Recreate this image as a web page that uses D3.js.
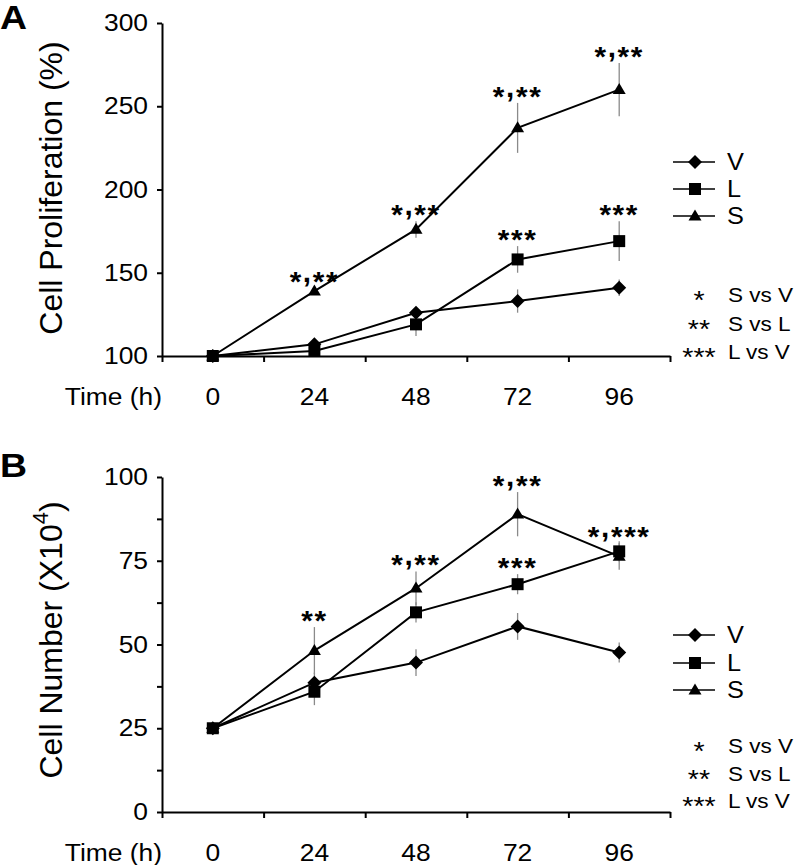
<!DOCTYPE html>
<html>
<head>
<meta charset="utf-8">
<script src="https://cdn.jsdelivr.net/npm/d3@7"></script>
<style>
  html, body { margin: 0; padding: 0; background: #fff; }
  svg { display: block; font-family: "Liberation Sans", Arial, sans-serif; }
</style>
</head>
<body>
<svg id="chart" width="796" height="865"></svg>
<script>
// ---------- DATA ----------
const times = ["0", "24", "48", "72", "96"];
const seriesNames = ["V", "L", "S"];

// Panel A: Cell Proliferation (%)
const aV = [100, 107, 126, 133, 141];
const aVErr = [0, 2, 2, 7, 5];
const aL = [100, 103, 119, 158, 169];
const aLErr = [0, 2, 7, 8, 12];
const aS = [100, 139, 176, 237, 260];
const aSErr = [0, 2, 5, 15, 16];
const aVSig = ["", "", "", "", ""];
const aLSig = ["", "", "", "***", "***"];
const aSSig = ["", "*,**", "*,**", "*,**", "*,**"];
const aTicks = [100, 150, 200, 250, 300];
const aTickLabels = ["100", "150", "200", "250", "300"];

// Panel B: Cell Number (X10^4)
const bV = [25, 38.6, 44.6, 55.4, 47.6];
const bVErr = [0, 3, 4, 4, 3];
const bL = [25, 35.9, 59.6, 68, 77.8];
const bLErr = [0, 4, 3, 3, 3];
const bS = [25, 48.2, 66.8, 88.9, 76.3];
const bSErr = [0, 7, 5, 6.6, 4];
const bVSig = ["", "", "", "", ""];
const bLSig = ["", "", "", "***", ""];
const bSSig = ["", "**", "*,**", "*,**", "*,***"];
const bTicks = [0, 12.5, 25, 37.5, 50, 62.5, 75, 87.5, 100];
const bTickLabels = ["0", "", "25", "", "50", "", "75", "", "100"];

const sigKeys = ["*", "**", "***"];
const sigLabels = ["S vs V", "S vs L", "L vs V"];

// ---------- DRAW ----------
const svg = d3.select("#chart");
const FONT = '"Liberation Sans", Arial, sans-serif';
const SX = 1.1; // horizontal stretch of the original figure text

function markerPath(type) {
  if (type === "V") { const r = 7; return `M0,${-r}L${r},0L0,${r}L${-r},0Z`; }
  if (type === "L") { const s = 6; return `M${-s},${-s}H${s}V${s}H${-s}Z`; }
  const w = 6.5, h = 11; return `M0,${-h*0.6}L${w},${h*0.4}L${-w},${h*0.4}Z`;
}

function stretchedText(g, x, y, str, size, anchor, weight) {
  return g.append("text")
    .attr("transform", `translate(${x},${y}) scale(${SX},1)`)
    .attr("text-anchor", anchor || "start")
    .attr("font-size", size).attr("font-family", FONT)
    .attr("font-weight", weight || "normal").text(str);
}

function starText(g, x, y, str) {
  const t = g.append("text")
    .attr("transform", `translate(${x},${y}) scale(${SX},1)`)
    .attr("text-anchor", "middle").attr("font-size", 27).attr("font-weight", "bold")
    .attr("font-family", FONT).attr("letter-spacing", 1.5);
  let raised = false;
  for (const ch of str) {
    const sp = t.append("tspan").text(ch);
    if (ch === ",") { sp.attr("dy", -9); raised = true; }
    else if (raised) { sp.attr("dy", 9); raised = false; }
  }
  return t;
}

function drawPanel(cfg) {
  const g = svg.append("g");
  const x = d3.scaleBand().domain(times).range([162, 670]).padding(0);
  const xEdge = d3.scaleLinear().domain([0, times.length]).range([162, 670]);
  const y = d3.scaleLinear().domain(cfg.domain).range([cfg.y0, cfg.y1]);

  // axes
  const yAxis = d3.axisLeft(y).tickValues(cfg.ticks).tickSize(5).tickSizeOuter(0)
    .tickPadding(7.7).tickFormat((d, i) => cfg.tickLabels[i]);
  const ya = g.append("g").attr("transform", "translate(162,0)").call(yAxis);
  const xAxis = d3.axisBottom(xEdge).ticks(times.length).tickSize(6).tickSizeOuter(0).tickFormat("");
  const xa = g.append("g").attr("transform", `translate(0,${cfg.y0})`).call(xAxis);
  [ya, xa].forEach(a => {
    a.select(".domain").attr("stroke", "#000").attr("stroke-width", 2);
    a.selectAll(".tick line").attr("stroke", "#000").attr("stroke-width", 2);
  });
  ya.selectAll(".tick text").attr("font-family", FONT).attr("font-size", 24)
    .attr("fill", "#000").attr("transform", `scale(${SX},1)`);

  // x labels
  times.forEach(t => stretchedText(g, x(t) + x.bandwidth() / 2, cfg.y0 + 49, t, 24, "middle"));
  stretchedText(g, 162, cfg.y0 + 49, "Time (h)", 24, "end");

  // y title
  const yt = g.append("text").attr("transform", `translate(62,${cfg.titleY}) rotate(-90)`)
    .attr("text-anchor", "middle").attr("font-size", 32).attr("font-family", FONT);
  yt.append("tspan").text(cfg.title);
  if (cfg.titleSup) {
    yt.append("tspan").attr("font-size", 22).attr("dy", -14).text(cfg.titleSup);
    yt.append("tspan").attr("dy", 14).text(")");
  }

  // panel letter
  stretchedText(g, 0, cfg.letterY, cfg.letter, 34, "start", "bold");

  const series = cfg.series;
  const cx = i => x(times[i]) + x.bandwidth() / 2;

  // error bars
  series.forEach(s => {
    s.vals.forEach((d, i) => {
      if (s.err[i] > 0) {
        g.append("line").attr("x1", cx(i)).attr("x2", cx(i))
          .attr("y1", y(d + s.err[i])).attr("y2", y(d - s.err[i]))
          .attr("stroke", "#8a8a8a").attr("stroke-width", 1.3);
      }
    });
  });

  // lines
  const line = d3.line().x((d, i) => cx(i)).y(d => y(d));
  series.forEach(s => {
    g.append("path").datum(s.vals).attr("d", line).attr("fill", "none")
      .attr("stroke", "#000").attr("stroke-width", 2);
  });
  // markers
  series.forEach(s => {
    g.selectAll(null).data(s.vals).enter().append("path")
      .attr("d", markerPath(s.name))
      .attr("transform", (d, i) => `translate(${cx(i)},${y(d)})`).attr("fill", "#000");
  });
  // significance
  series.forEach(s => {
    s.sig.forEach((t, i) => {
      if (!t) return;
      starText(g, cx(i), y(s.vals[i] + s.err[i]) + 3, t);
    });
  });

  // legend
  series.forEach((s, k) => {
    const ly = cfg.legendY[k];
    g.append("line").attr("x1", 673).attr("x2", 715).attr("y1", ly).attr("y2", ly)
      .attr("stroke", "#000").attr("stroke-width", 1.5);
    g.append("path").attr("d", markerPath(s.name)).attr("transform", `translate(695,${ly})`).attr("fill", "#000");
    stretchedText(g, 727, ly + 8, s.name, 23);
  });
  sigKeys.forEach((k, i) => {
    const ly = cfg.sigY[i];
    stretchedText(g, 699, ly + 15, k, 26, "middle");
    stretchedText(g, 728, ly + 8, sigLabels[i], 20.5);
  });
}

drawPanel({
  letter: "A", letterY: 29,
  domain: [100, 300], y0: 356, y1: 23,
  ticks: aTicks, tickLabels: aTickLabels,
  title: "Cell Proliferation (%)", titleY: 188,
  series: [
    { name: "V", vals: aV, err: aVErr, sig: aVSig },
    { name: "L", vals: aL, err: aLErr, sig: aLSig },
    { name: "S", vals: aS, err: aSErr, sig: aSSig }
  ],
  legendY: [162, 189, 216], sigY: [294, 323, 351]
});

drawPanel({
  letter: "B", letterY: 477,
  domain: [0, 100], y0: 812, y1: 477,
  ticks: bTicks, tickLabels: bTickLabels,
  title: "Cell Number (X10", titleSup: "4", titleY: 640,
  series: [
    { name: "V", vals: bV, err: bVErr, sig: bVSig },
    { name: "L", vals: bL, err: bLErr, sig: bLSig },
    { name: "S", vals: bS, err: bSErr, sig: bSSig }
  ],
  legendY: [635, 663, 690], sigY: [745, 773, 800]
});
</script>
</body>
</html>
